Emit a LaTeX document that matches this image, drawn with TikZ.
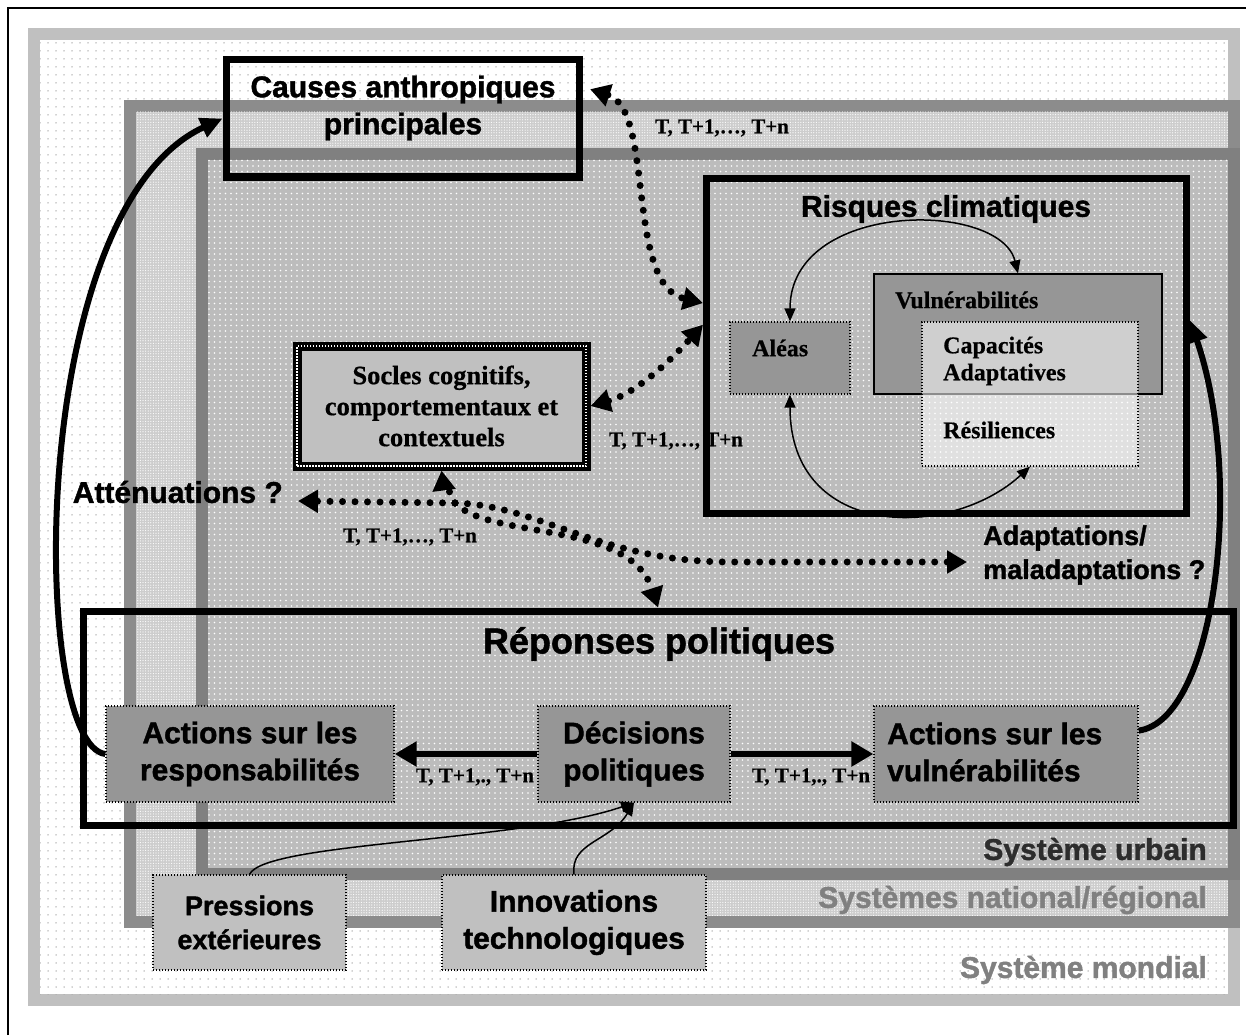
\documentclass[tikz,border=0pt]{standalone}
\usepackage{fontspec}
\setmainfont{Liberation Serif}[BoldFeatures={FakeBold=0.6}]
\setsansfont{Liberation Sans}[BoldFeatures={FakeBold=1.4}]
\usetikzlibrary{arrows.meta,patterns.meta}
\definecolor{mondialband}{RGB}{192,192,192}
\definecolor{natband}{RGB}{140,140,140}
\definecolor{urbband}{RGB}{128,128,128}
\definecolor{natfill}{RGB}{205,205,205}
\definecolor{urbfill}{RGB}{188,188,188}
\definecolor{boxdark}{RGB}{150,150,150}
\definecolor{boxlight}{RGB}{192,192,192}
\definecolor{dotgray}{RGB}{165,165,165}
\definecolor{urbtext}{RGB}{45,45,45}
\definecolor{systext}{RGB}{128,128,128}
\tikzset{
  sansb/.style={font=\sffamily\bfseries\fontsize{30}{37}\selectfont},
  sansm/.style={font=\sffamily\bfseries\fontsize{27}{34}\selectfont},
  sansbig/.style={font=\sffamily\bfseries\fontsize{36}{42}\selectfont},
  serifb/.style={font=\rmfamily\bfseries\fontsize{24}{27}\selectfont},
  serifsoc/.style={font=\rmfamily\bfseries\fontsize{26.5}{31}\selectfont},
  tlab/.style={font=\rmfamily\bfseries\fontsize{21}{24}\selectfont, inner sep=0pt},
  txt/.style={inner sep=0pt, align=center},
  framebox/.style={draw=black, line width=7pt, inner sep=0pt, fill=none},
  dotbox/.style={draw=black, line width=1.3pt, dash pattern=on 1.3pt off 1.7pt, inner sep=0pt},
  solidbox/.style={draw=black, line width=1.3pt, inner sep=0pt},
  socle/.style={fill=boxlight, draw=black, line width=9pt, inner sep=0pt, align=center,
     postaction={fill=none, draw=white, line width=2pt, dash pattern=on 1.5pt off 1.5pt}},
  dt/.tip={Triangle[length=20pt,width=22pt]},
  dotline/.style={line width=7pt, dash pattern=on 0pt off 12.5pt, line cap=round},
  bigarrow/.style={line width=6pt, -{Triangle[length=22pt,width=24pt]}},
  curvearrow/.style={line width=6pt, -{Triangle[length=22pt,width=20pt]}},
  tt/.tip={Triangle[length=13pt,width=11pt]},
  thinarrow/.style={line width=1.5pt},
}
\begin{document}
\begin{tikzpicture}[x=1pt,y=-1pt]
\useasboundingbox (0,0) rectangle (1246,1035);
% outer frame
\draw[line width=1.6pt] (8,1035) -- (8,8) -- (1246,8);
% Systeme mondial
\fill[mondialband] (28,28) rectangle (1240,1006);
\fill[white] (40,40) rectangle (1228,994);
\fill[pattern={Dots[distance=8pt,radius=0.75pt]}, pattern color=dotgray] (40,40) rectangle (1228,994);
% Systemes national/regional
\fill[natband] (124,100) rectangle (1240,928);
\fill[natfill] (136,112) rectangle (1228,916);
\fill[pattern={Dots[distance=2.6pt,radius=0.6pt]}, pattern color=white] (136,112) rectangle (1228,916);
% Systeme urbain
\fill[urbband] (196,148) rectangle (1240,880);
\fill[urbfill] (208,160) rectangle (1228,868);
\fill[pattern={Dots[distance=5.5pt,radius=0.85pt]}, pattern color=white] (208,160) rectangle (1228,868);

% system labels
\node[sansb, text=urbtext, anchor=east, inner sep=0pt] (urbl) at (1207,852) {Système urbain};
\node[sansb, text=systext, anchor=east, inner sep=0pt] (natl) at (1207,900) {Systèmes national/régional};
\node[sansb, text=systext, anchor=east, inner sep=0pt] (monl) at (1207,970) {Système mondial};

% Causes anthropiques
\node[framebox, minimum width=353pt, minimum height=117pt] (causes) at (402.5,118.5) {};
\node[sansb, txt] (causestext) at (403,108) {Causes anthropiques\\principales};

% Risques climatiques
\node[framebox, minimum width=480pt, minimum height=335pt] (risques) at (946.5,346) {};
\node[sansb, txt] (risqtext) at (946,209) {Risques climatiques};
\node[solidbox, fill=boxdark, minimum width=288pt, minimum height=120pt] (vuln) at (1018,334) {};
\node[dotbox, fill=boxdark, minimum width=120pt, minimum height=72pt] (aleas) at (790,358) {};
\node[dotbox, fill=white, fill opacity=0.55, draw opacity=1, minimum width=216pt, minimum height=144pt] (capa) at (1030,394) {};
\node[serifb, anchor=west, inner sep=0pt] (vulntext) at (895,300) {Vulnérabilités};
\node[serifb, anchor=west, inner sep=0pt] (aleastext) at (752,348) {Aléas};
\node[serifb, anchor=west, inner sep=0pt, align=left] (capatext) at (943,361) {Capacités\\Adaptatives};
\node[serifb, anchor=west, inner sep=0pt] (restext) at (943,430) {Résiliences};
\draw[thinarrow, tt-tt] (aleas.north) .. controls (790,200) and (1000,200) .. (vuln.north);
\draw[thinarrow, tt-tt] (aleas.south) .. controls (790,540) and (950,540) .. (capa.south);

% Socles
\node[socle, serifsoc, minimum width=289pt, minimum height=120pt] (socles) at (441.5,406) {Socles cognitifs,\\comportementaux et\\contextuels};

% Reponses politiques
\node[framebox, minimum width=1150pt, minimum height=214pt] (reponses) at (658,718) {};
\node[sansbig, txt] (reptext) at (659,644) {Réponses politiques};
\node[dotbox, fill=boxdark, sansb, align=center, minimum width=288pt, minimum height=96pt] (actresp) at (250,754) {Actions sur les\\responsabilités};
\node[dotbox, fill=boxdark, sansb, align=center, minimum width=192pt, minimum height=96pt] (decis) at (634,754) {Décisions\\politiques};
\node[dotbox, fill=boxdark, minimum width=264pt, minimum height=96pt] (actvuln) at (1006,754) {};
\node[sansb, anchor=west, inner sep=0pt, align=left] (actvulntext) at (887,752) {Actions sur les\\vulnérabilités};
\draw[bigarrow] (decis.west) -- (actresp.east);
\draw[bigarrow] (decis.east) -- (actvuln.west);
\node[tlab] (t4) at (475,777) {T, T+1,., T+n};
\node[tlab] (t5) at (811,777) {T, T+1,., T+n};

% external boxes
\node[dotbox, fill=boxlight, sansm, align=center, minimum width=193pt, minimum height=95pt] (press) at (249.5,922.5) {Pressions\\extérieures};
\node[dotbox, fill=boxlight, sansb, align=center, minimum width=264pt, minimum height=95pt] (innov) at (574,922.5) {Innovations\\technologiques};
\draw[thinarrow, -tt] (press.north) .. controls (265,842) and (520,842) .. (decis.south);
\draw[thinarrow, -tt] (innov.north) .. controls (570,842) and (610,842) .. (decis.south);

% big curved arrows
\draw[curvearrow] (actresp.west) .. controls (30,745) and (25,210) .. (causes.west);
\draw[curvearrow] (actvuln.10) .. controls (1215,720) and (1245,480) .. (risques.6);

% labels attenuations / adaptations
\node[sansb, anchor=east, inner ysep=0pt, inner xsep=15pt] (atten) at (298,492) {Atténuations ?};
\node[sansm, anchor=west, inner ysep=0pt, inner xsep=16pt, align=left] (adapt) at (967,555) {Adaptations/\\maladaptations ?};

% dotted arrows
\coordinate (J) at (455,503);
\draw[dotline, dt-dt, shorten <=8pt] (causes.10) .. controls (655,110) and (625,285) .. (risques.170);
\draw[dotline, dt-dt] (socles.east) .. controls (630,395) and (660,372) .. (risques.175);
\draw[dotline, -dt] (J) -- ([yshift=-9pt]atten.east);
\draw[dotline, -dt] (J) .. controls (450,490) and (443,482) .. (socles.south);
\draw[dotline, -dt] (J) .. controls (540,505) and (600,562) .. (730,562) -- ([yshift=-7pt]adapt.west);
\draw[dotline, -dt] (J) .. controls (490,540) and (630,520) .. (reponses.north);
\node[tlab] (t1) at (722,128) {T, T+1,…, T+n};
\node[tlab] (t2) at (676,441) {T, T+1,…, T+n};
\node[tlab] (t3) at (410,537) {T, T+1,…, T+n};
\end{tikzpicture}
\end{document}
